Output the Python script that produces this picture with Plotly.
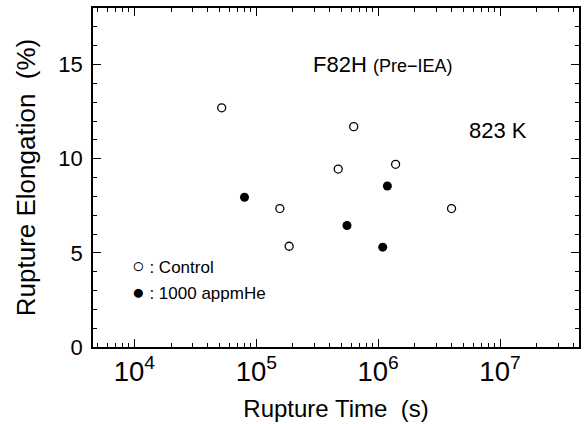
import plotly.graph_objects as go

control_time = [5.2e4, 6.3e5, 4.7e5, 1.39e6, 1.56e5, 4.0e6, 1.86e5]
control_elong = [12.7, 11.7, 9.45, 9.7, 7.35, 7.35, 5.35]
he_time = [8.0e4, 1.19e6, 5.55e5, 1.09e6]
he_elong = [7.95, 8.55, 6.45, 5.3]

FONT = "Liberation Sans, Arial, Helvetica, sans-serif"

fig = go.Figure()
fig.add_trace(go.Scatter(
    x=control_time, y=control_elong, mode="markers", name=": Control",
    marker=dict(symbol="circle-open", size=8, color="black", line=dict(width=1.3, color="black")),
))
fig.add_trace(go.Scatter(
    x=he_time, y=he_elong, mode="markers", name=": 1000 appmHe",
    marker=dict(symbol="circle", size=9, color="black", line=dict(width=0)),
))

L, R, T, B = 93, 579, 8, 347

def px_x(px):
    return (px - L) / (R - L)

def px_y(py):
    return (B - py) / (B - T)

fig.add_annotation(x=px_x(311), y=px_y(64), xref="paper", yref="paper", xanchor="left", yanchor="middle",
                   text="F82H <span style='font-size:18px'>(Pre−IEA)</span>", showarrow=False,
                   font=dict(size=22, color="black", family=FONT))
fig.add_annotation(x=px_x(467), y=px_y(130), xref="paper", yref="paper", xanchor="left", yanchor="middle",
                   text="823 K", showarrow=False, font=dict(size=22, color="black", family=FONT))
fig.add_annotation(x=px_x(130), y=px_y(265), xref="paper", yref="paper", xanchor="left", yanchor="middle",
                   text="<span style='font-size:21px'>○</span> : Control", showarrow=False,
                   font=dict(size=17, color="black", family=FONT))
fig.add_annotation(x=px_x(130), y=px_y(291), xref="paper", yref="paper", xanchor="left", yanchor="middle",
                   text="<span style='font-size:21px'>●</span> : 1000 appmHe", showarrow=False,
                   font=dict(size=17, color="black", family=FONT))

axis_common = dict(
    showgrid=False, zeroline=False, showline=True, linecolor="black", linewidth=1.5,
    mirror="ticks", ticks="inside", ticklen=8, tickwidth=1, tickcolor="black",
    tickfont=dict(size=22, color="black", family=FONT), automargin=False,
)

fig.update_xaxes(
    type="log", range=[3.66, 7.648], dtick=1, exponentformat="power",
    minor=dict(ticks="inside", ticklen=4, dtick="D1", tickcolor="black", showgrid=False),
    title=dict(text="Rupture Time  (s)", font=dict(size=24, color="black", family=FONT)),
    **axis_common,
)
fig.update_yaxes(
    range=[0, 18], dtick=5, ticklabelstandoff=4,
    minor=dict(ticks="inside", ticklen=4, dtick=1, tickcolor="black", showgrid=False),
    title=dict(text="Rupture Elongation  (%)", font=dict(size=26, color="black", family=FONT)),
    **axis_common,
)

fig.update_layout(
    width=584, height=424,
    margin=dict(l=L, r=584 - R, t=T, b=424 - B),
    plot_bgcolor="white", paper_bgcolor="white",
    font=dict(family=FONT, color="black"),
    showlegend=False,
)

fig.write_html("out.html", config={"displayModeBar": False},
               post_script="document.body.style.margin='0px';")
